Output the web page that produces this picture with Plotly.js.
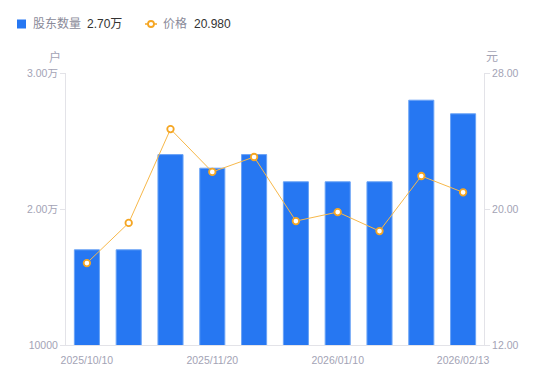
<!DOCTYPE html>
<html>
<head>
<meta charset="utf-8">
<script src="https://cdn.plot.ly/plotly-3.0.1.min.js"></script>
<style>html,body{margin:0;padding:0;background:#fff;}#chart{width:550px;height:381px;}</style>
</head>
<body>
<div id="chart"></div>
<script>
const dates = ["2025/10/10","2025/10/31","2025/11/10","2025/11/20","2025/12/10","2025/12/20","2026/01/10","2026/01/20","2026/01/31","2026/02/13"];
const holders = [17000, 17000, 24000, 23000, 24000, 22000, 22000, 22000, 28000, 27000];
const prices = [16.82, 19.18, 24.70, 22.18, 23.06, 19.29, 19.82, 18.70, 21.94, 20.98];
const xTickLabels = ["2025/10/10","2025/11/20","2026/01/10","2026/02/13"];
const yLeftTicks = [10000, 20000, 30000];
const yLeftLabels = ["10000", "2.00万", "3.00万"];
const yRightTicks = [12, 20, 28];
const yRightLabels = ["12.00", "20.00", "28.00"];
const seriesNames = ["股东数量", "价格"];
const legendValues = ["2.70万", "20.980"];

const W = 550, H = 381, ML = 66, MR = 66, MT = 73, MB = 36;
const PW = W - ML - MR, PH = H - MT - MB;
const px = x => (x - ML) / PW;
const py = y => (H - MB - y) / PH;

const gray = "#a3a3b5";
const fam = "'Liberation Sans', Arial, 'Noto Sans CJK SC', sans-serif";
const tickFont = {family: fam, size: 10.5, color: gray};
const blue = "#2677f2", orange = "#f5a623";

const traces = [
  {
    type: "bar", x: dates, y: holders, yaxis: "y", name: seriesNames[0],
    marker: {color: blue, line: {color: "#6aa3f6", width: 1}},
    width: 0.6, showlegend: false
  },
  {
    type: "scatter", mode: "lines+markers", x: dates, y: prices, yaxis: "y2", name: seriesNames[1],
    line: {color: "#f7b84a", width: 1},
    marker: {symbol: "circle", size: 6.5, color: "#ffffff", line: {color: orange, width: 1.8}},
    showlegend: false
  }
];

const legY = 24;
const layout = {
  width: W, height: H,
  margin: {l: ML, r: MR, t: MT, b: MB, autoexpand: false},
  paper_bgcolor: "#fff", plot_bgcolor: "#fff",
  font: {family: fam, size: 12, color: "#8a8a99"},
  showlegend: false,
  bargap: 0.4,
  xaxis: {
    type: "category", tickmode: "array", tickvals: xTickLabels, ticktext: xTickLabels,
    showgrid: false, showline: true, linecolor: "#e3e3e8", linewidth: 1,
    ticks: "", tickfont: tickFont, zeroline: false, range: [-0.5, 9.5], ticklabelstandoff: 5
  },
  yaxis: {
    range: [10000, 30000], tickmode: "array", tickvals: yLeftTicks, ticktext: yLeftLabels,
    showgrid: false, showline: true, linecolor: "#e3e3e8", linewidth: 1,
    ticks: "outside", ticklen: 5, tickcolor: "#e3e3e8", tickfont: tickFont, zeroline: false
  },
  yaxis2: {
    overlaying: "y", side: "right", range: [12, 28], tickmode: "array",
    tickvals: yRightTicks, ticktext: yRightLabels,
    showgrid: false, showline: true, linecolor: "#e3e3e8", linewidth: 1,
    ticks: "outside", ticklen: 5, tickcolor: "#e3e3e8", tickfont: tickFont, zeroline: false
  },
  shapes: [
    {type: "rect", xref: "paper", yref: "paper", x0: px(17), x1: px(26), y0: py(legY + 4.5), y1: py(legY - 4.5),
     fillcolor: blue, line: {width: 0}},
    {type: "line", xref: "paper", yref: "paper", x0: px(145), x1: px(157), y0: py(legY), y1: py(legY),
     line: {color: orange, width: 1.5}},
    {type: "circle", xref: "paper", yref: "paper", x0: px(148), x1: px(154), y0: py(legY + 3), y1: py(legY - 3),
     fillcolor: "#fff", line: {color: orange, width: 1.8}}
  ],
  annotations: [
    {text: seriesNames[0], x: px(31), y: py(legY), xanchor: "left", font: {size: 12, color: "#8a8a99"}},
    {text: legendValues[0], x: px(85), y: py(legY), xanchor: "left", font: {size: 12, color: "#333"}},
    {text: seriesNames[1], x: px(161), y: py(legY), xanchor: "left", font: {size: 12, color: "#8a8a99"}},
    {text: legendValues[1], x: px(192), y: py(legY), xanchor: "left", font: {size: 12, color: "#333"}},
    {text: "户", x: px(63), y: py(57), xanchor: "right", font: {size: 12, color: gray}},
    {text: "元", x: px(484), y: py(57), xanchor: "left", font: {size: 12, color: gray}}
  ].map(a => Object.assign({xref: "paper", yref: "paper", yanchor: "middle", showarrow: false}, a))
};

Plotly.newPlot("chart", traces, layout, {displayModeBar: false, staticPlot: true});
</script>
</body>
</html>
